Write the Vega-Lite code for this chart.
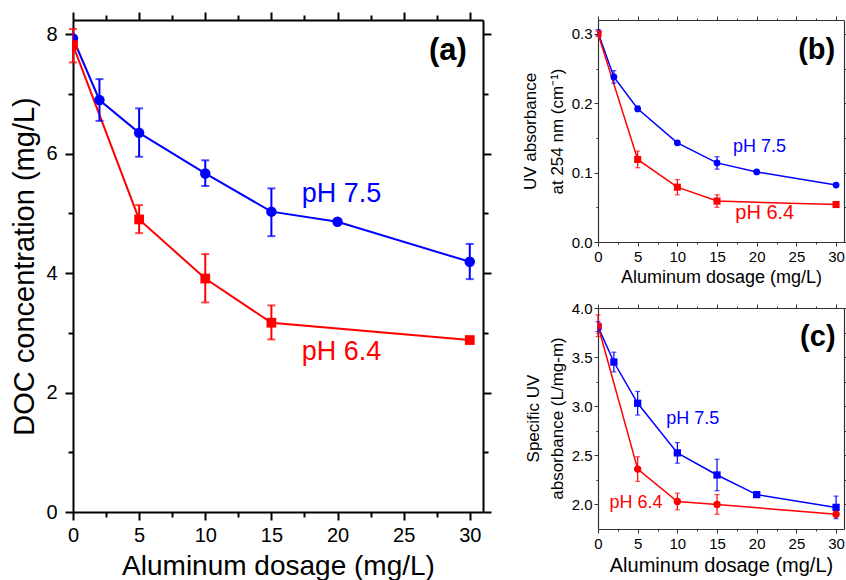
{
  "$schema": "https://vega.github.io/schema/vega-lite/v6.json",
  "padding": {"left": 10, "top": 11, "right": 0, "bottom": 0},
  "config": {
    "font": "Liberation Sans",
    "view": {"stroke": null},
    "axis": {"grid": false, "labelColor": "black", "titleColor": "black", "titleFontWeight": "normal", "labelFlush": false, "labelOverlap": false, "tickColor": "black", "domainColor": "black", "labelFont": "Liberation Sans", "titleFont": "Liberation Sans"}
  },
  "datasets": {
    "a": [
      {"d": 0, "ph": "pH 7.5", "v": 7.93, "lo": null, "hi": null},
      {"d": 2, "ph": "pH 7.5", "v": 6.90, "lo": 6.55, "hi": 7.25},
      {"d": 5, "ph": "pH 7.5", "v": 6.35, "lo": 5.95, "hi": 6.76},
      {"d": 10, "ph": "pH 7.5", "v": 5.67, "lo": 5.46, "hi": 5.89},
      {"d": 15, "ph": "pH 7.5", "v": 5.03, "lo": 4.62, "hi": 5.42},
      {"d": 20, "ph": "pH 7.5", "v": 4.86, "lo": null, "hi": null},
      {"d": 30, "ph": "pH 7.5", "v": 4.19, "lo": 3.90, "hi": 4.49},
      {"d": 0, "ph": "pH 6.4", "v": 7.82, "lo": 7.53, "hi": 8.09},
      {"d": 5, "ph": "pH 6.4", "v": 4.90, "lo": 4.67, "hi": 5.14},
      {"d": 10, "ph": "pH 6.4", "v": 3.91, "lo": 3.51, "hi": 4.32},
      {"d": 15, "ph": "pH 6.4", "v": 3.17, "lo": 2.89, "hi": 3.46},
      {"d": 30, "ph": "pH 6.4", "v": 2.88, "lo": null, "hi": null}
    ],
    "b": [
      {"d": 0, "ph": "pH 7.5", "v": 0.302, "lo": 0.298, "hi": 0.306},
      {"d": 2, "ph": "pH 7.5", "v": 0.238, "lo": 0.229, "hi": 0.247},
      {"d": 5, "ph": "pH 7.5", "v": 0.192, "lo": 0.188, "hi": 0.196},
      {"d": 10, "ph": "pH 7.5", "v": 0.143, "lo": 0.140, "hi": 0.146},
      {"d": 15, "ph": "pH 7.5", "v": 0.114, "lo": 0.105, "hi": 0.123},
      {"d": 20, "ph": "pH 7.5", "v": 0.101, "lo": null, "hi": null},
      {"d": 30, "ph": "pH 7.5", "v": 0.082, "lo": null, "hi": null},
      {"d": 0, "ph": "pH 6.4", "v": 0.300, "lo": 0.296, "hi": 0.304},
      {"d": 5, "ph": "pH 6.4", "v": 0.119, "lo": 0.107, "hi": 0.131},
      {"d": 10, "ph": "pH 6.4", "v": 0.079, "lo": 0.068, "hi": 0.090},
      {"d": 15, "ph": "pH 6.4", "v": 0.059, "lo": 0.050, "hi": 0.068},
      {"d": 30, "ph": "pH 6.4", "v": 0.054, "lo": null, "hi": null}
    ],
    "c": [
      {"d": 0, "ph": "pH 7.5", "v": 3.81, "lo": 3.76, "hi": 3.86},
      {"d": 2, "ph": "pH 7.5", "v": 3.45, "lo": 3.35, "hi": 3.55},
      {"d": 5, "ph": "pH 7.5", "v": 3.03, "lo": 2.91, "hi": 3.15},
      {"d": 10, "ph": "pH 7.5", "v": 2.525, "lo": 2.42, "hi": 2.63},
      {"d": 15, "ph": "pH 7.5", "v": 2.30, "lo": 2.14, "hi": 2.46},
      {"d": 20, "ph": "pH 7.5", "v": 2.10, "lo": null, "hi": null},
      {"d": 30, "ph": "pH 7.5", "v": 1.97, "lo": 1.855, "hi": 2.085},
      {"d": 0, "ph": "pH 6.4", "v": 3.82, "lo": 3.71, "hi": 3.93},
      {"d": 5, "ph": "pH 6.4", "v": 2.36, "lo": 2.235, "hi": 2.485},
      {"d": 10, "ph": "pH 6.4", "v": 2.03, "lo": 1.945, "hi": 2.115},
      {"d": 15, "ph": "pH 6.4", "v": 2.00, "lo": 1.90, "hi": 2.10},
      {"d": 30, "ph": "pH 6.4", "v": 1.90, "lo": 1.88, "hi": 1.92}
    ],
    "ta": [
      {"x": 17.3, "y": 5.20, "t": "pH 7.5", "ph": "pH 7.5"},
      {"x": 17.3, "y": 2.55, "t": "pH 6.4", "ph": "pH 6.4"}
    ],
    "tb": [
      {"x": 17.0, "y": 0.130, "t": "pH 7.5", "ph": "pH 7.5"},
      {"x": 17.3, "y": 0.033, "t": "pH 6.4", "ph": "pH 6.4"}
    ],
    "tc": [
      {"x": 8.6, "y": 2.822, "t": "pH 7.5", "ph": "pH 7.5"},
      {"x": 1.46, "y": 1.959, "t": "pH 6.4", "ph": "pH 6.4"}
    ],
    "la": [{"x": 28.35, "y": 7.57, "t": "(a)"}],
    "lb": [{"x": 27.56, "y": 0.264, "t": "(b)"}],
    "lc": [{"x": 27.7, "y": 3.617, "t": "(c)"}]
  },
  "spacing": 115,
  "bounds": "flush",
  "resolve": {"scale": {"shape": "independent", "size": "independent"}},
  "hconcat": [
    {
      "width": 410,
      "height": 492,
      "data": {"name": "a"},
      "resolve": {"axis": {"x": "independent", "y": "independent"}},
      "layer": [
        {
          "mark": {"type": "line", "strokeWidth": 2},
          "encoding": {
            "x": {"field": "d", "type": "quantitative", "scale": {"domain": [0, 31], "nice": false, "zero": false},
              "axis": {"orient": "bottom", "values": [0, 5, 10, 15, 20, 25, 30], "tickSize": 8, "tickWidth": 2, "domainWidth": 2, "labelFontSize": 20, "labelPadding": 5, "title": "Aluminum dosage (mg/L)", "titleFontSize": 28, "titleBaseline": "alphabetic", "titleY": 62}},
            "y": {"field": "v", "type": "quantitative", "scale": {"domain": [0, 8.24], "nice": false, "zero": false},
              "axis": {"orient": "left", "values": [0, 2, 4, 6, 8], "tickSize": 8, "tickWidth": 2, "domainWidth": 2, "labelFontSize": 20, "labelPadding": 8, "title": "DOC concentration (mg/L)", "titleFontSize": 29, "titleAngle": -90, "titleBaseline": "alphabetic", "titleAlign": "center", "titleX": -40, "titleY": 246}},
            "color": {"field": "ph", "type": "nominal", "scale": {"domain": ["pH 7.5", "pH 6.4"], "range": ["#0000ff", "#ff0000"]}, "legend": null}
          }
        },
        {
          "mark": {"type": "rule", "strokeWidth": 2},
          "encoding": {
            "x": {"field": "d", "type": "quantitative", "scale": {"domain": [0, 31], "nice": false, "zero": false},
              "axis": {"orient": "bottom", "values": [2.5, 7.5, 12.5, 17.5, 22.5, 27.5], "tickSize": 5, "tickWidth": 2, "domain": false, "labels": false, "title": null}},
            "y": {"field": "lo", "type": "quantitative", "scale": {"domain": [0, 8.24], "nice": false, "zero": false},
              "axis": {"orient": "left", "values": [1, 3, 5, 7], "tickSize": 5, "tickWidth": 2, "domain": false, "labels": false, "title": null}},
            "y2": {"field": "hi"},
            "color": {"field": "ph", "type": "nominal", "legend": null}
          }
        },
        {
          "mark": {"type": "tick", "orient": "horizontal", "size": 8, "thickness": 2},
          "encoding": {
            "x": {"field": "d", "type": "quantitative", "scale": {"domain": [0, 31], "nice": false, "zero": false},
              "axis": {"orient": "top", "values": [0, 5, 10, 15, 20, 25, 30], "tickSize": 8, "tickWidth": 2, "domainWidth": 2, "labels": false, "title": null}},
            "y": {"field": "lo", "type": "quantitative", "scale": {"domain": [0, 8.24], "nice": false, "zero": false},
              "axis": {"orient": "right", "values": [0, 2, 4, 6, 8], "tickSize": 8, "tickWidth": 2, "domainWidth": 2, "labels": false, "title": null}},
            "color": {"field": "ph", "type": "nominal", "legend": null}
          }
        },
        {
          "mark": {"type": "tick", "orient": "horizontal", "size": 8, "thickness": 2},
          "encoding": {
            "x": {"field": "d", "type": "quantitative", "scale": {"domain": [0, 31], "nice": false, "zero": false},
              "axis": {"orient": "top", "values": [2.5, 7.5, 12.5, 17.5, 22.5, 27.5], "tickSize": 5, "tickWidth": 2, "domain": false, "labels": false, "title": null}},
            "y": {"field": "hi", "type": "quantitative", "scale": {"domain": [0, 8.24], "nice": false, "zero": false},
              "axis": {"orient": "right", "values": [1, 3, 5, 7], "tickSize": 5, "tickWidth": 2, "domain": false, "labels": false, "title": null}},
            "color": {"field": "ph", "type": "nominal", "legend": null}
          }
        },
        {
          "mark": {"type": "point", "filled": true, "opacity": 1, "clip": true},
          "encoding": {
            "x": {"field": "d", "type": "quantitative", "axis": null},
            "y": {"field": "v", "type": "quantitative", "axis": null},
            "color": {"field": "ph", "type": "nominal", "legend": null},
            "shape": {"field": "ph", "type": "nominal", "scale": {"domain": ["pH 7.5", "pH 6.4"], "range": ["circle", "square"]}, "legend": null},
            "size": {"field": "ph", "type": "nominal", "scale": {"domain": ["pH 7.5", "pH 6.4"], "range": [110, 95]}, "legend": null}
          }
        },
        {
          "data": {"name": "ta"},
          "mark": {"type": "text", "fontSize": 27, "align": "left", "baseline": "alphabetic"},
          "encoding": {
            "x": {"field": "x", "type": "quantitative", "axis": null},
            "y": {"field": "y", "type": "quantitative", "axis": null},
            "text": {"field": "t"},
            "color": {"field": "ph", "type": "nominal", "legend": null}
          }
        },
        {
          "data": {"name": "la"},
          "mark": {"type": "text", "fontSize": 31, "fontWeight": "bold", "align": "center", "baseline": "alphabetic", "color": "black"},
          "encoding": {
            "x": {"field": "x", "type": "quantitative", "axis": null},
            "y": {"field": "y", "type": "quantitative", "axis": null},
            "text": {"field": "t"}
          }
        }
      ]
    },
    {
      "spacing": 66,
      "bounds": "flush",
      "resolve": {"scale": {"shape": "independent", "size": "independent"}},
      "vconcat": [
        {
          "width": 246,
          "height": 222,
          "data": {"name": "b"},
          "resolve": {"axis": {"x": "independent", "y": "independent"}},
          "layer": [
            {
              "mark": {"type": "line", "strokeWidth": 1.5},
              "encoding": {
                "x": {"field": "d", "type": "quantitative", "scale": {"domain": [0, 31], "nice": false, "zero": false},
                  "axis": {"orient": "bottom", "values": [0, 5, 10, 15, 20, 25, 30], "tickSize": 4, "tickWidth": 1, "tickColor": "#333", "domainColor": "#333", "domainWidth": 1.2, "labelFontSize": 15, "labelPadding": 3, "title": "Aluminum dosage (mg/L)", "titleFontSize": 18, "titleBaseline": "alphabetic", "titleY": 40}},
                "y": {"field": "v", "type": "quantitative", "scale": {"domain": [0, 0.32], "nice": false, "zero": false},
                  "axis": {"orient": "left", "values": [0, 0.1, 0.2, 0.3], "format": ".1f", "tickSize": 4, "tickWidth": 1, "tickColor": "#333", "domainColor": "#333", "domainWidth": 1.2, "labelFontSize": 15, "labelPadding": 2, "title": ["UV absorbance", "at 254 nm (cm⁻¹)"], "titleFontSize": 17, "titleLineHeight": 27, "titleAngle": -90, "titleBaseline": "alphabetic", "titleAlign": "center", "titleX": -63, "titleY": 111}},
                "color": {"field": "ph", "type": "nominal", "scale": {"domain": ["pH 7.5", "pH 6.4"], "range": ["#0000ff", "#ff0000"]}, "legend": null}
              }
            },
            {
              "mark": {"type": "rule", "strokeWidth": 1.2},
              "encoding": {
                "x": {"field": "d", "type": "quantitative", "scale": {"domain": [0, 31], "nice": false, "zero": false},
                  "axis": {"orient": "bottom", "values": [2.5, 7.5, 12.5, 17.5, 22.5, 27.5], "tickSize": 2, "tickWidth": 1, "tickColor": "#333", "domain": false, "labels": false, "title": null}},
                "y": {"field": "lo", "type": "quantitative", "scale": {"domain": [0, 0.32], "nice": false, "zero": false},
                  "axis": {"orient": "left", "values": [0.05, 0.15, 0.25], "tickSize": 2, "tickWidth": 1, "tickColor": "#333", "domain": false, "labels": false, "title": null}},
                "y2": {"field": "hi"},
                "color": {"field": "ph", "type": "nominal", "legend": null}
              }
            },
            {
              "mark": {"type": "tick", "orient": "horizontal", "size": 5, "thickness": 1.2},
              "encoding": {
                "x": {"field": "d", "type": "quantitative", "scale": {"domain": [0, 31], "nice": false, "zero": false},
                  "axis": {"orient": "top", "values": [0, 5, 10, 15, 20, 25, 30], "tickSize": 4, "tickWidth": 1, "tickColor": "#333", "domainColor": "#333", "domainWidth": 1.2, "labels": false, "title": null}},
                "y": {"field": "lo", "type": "quantitative", "scale": {"domain": [0, 0.32], "nice": false, "zero": false},
                  "axis": {"orient": "right", "values": [0, 0.1, 0.2, 0.3], "tickSize": 4, "tickWidth": 1, "tickColor": "#333", "domainColor": "#333", "domainWidth": 1.2, "labels": false, "title": null}},
                "color": {"field": "ph", "type": "nominal", "legend": null}
              }
            },
            {
              "mark": {"type": "tick", "orient": "horizontal", "size": 5, "thickness": 1.2},
              "encoding": {
                "x": {"field": "d", "type": "quantitative", "scale": {"domain": [0, 31], "nice": false, "zero": false},
                  "axis": {"orient": "top", "values": [2.5, 7.5, 12.5, 17.5, 22.5, 27.5], "tickSize": 2, "tickWidth": 1, "tickColor": "#333", "domain": false, "labels": false, "title": null}},
                "y": {"field": "hi", "type": "quantitative", "scale": {"domain": [0, 0.32], "nice": false, "zero": false},
                  "axis": {"orient": "right", "values": [0.05, 0.15, 0.25], "tickSize": 2, "tickWidth": 1, "tickColor": "#333", "domain": false, "labels": false, "title": null}},
                "color": {"field": "ph", "type": "nominal", "legend": null}
              }
            },
            {
              "mark": {"type": "point", "filled": true, "opacity": 1, "clip": true},
              "encoding": {
                "x": {"field": "d", "type": "quantitative", "axis": null},
                "y": {"field": "v", "type": "quantitative", "axis": null},
                "color": {"field": "ph", "type": "nominal", "legend": null},
                "shape": {"field": "ph", "type": "nominal", "scale": {"domain": ["pH 7.5", "pH 6.4"], "range": ["circle", "square"]}, "legend": null},
                "size": {"field": "ph", "type": "nominal", "scale": {"domain": ["pH 7.5", "pH 6.4"], "range": [46, 50]}, "legend": null}
              }
            },
            {
              "data": {"name": "tb"},
              "transform": [{"filter": "datum.ph === 'pH 7.5'"}],
              "mark": {"type": "text", "fontSize": 18, "align": "left", "baseline": "alphabetic"},
              "encoding": {
                "x": {"field": "x", "type": "quantitative", "axis": null},
                "y": {"field": "y", "type": "quantitative", "axis": null},
                "text": {"field": "t"},
                "color": {"field": "ph", "type": "nominal", "legend": null}
              }
            },
            {
              "data": {"name": "tb"},
              "transform": [{"filter": "datum.ph === 'pH 6.4'"}],
              "mark": {"type": "text", "fontSize": 20, "align": "left", "baseline": "alphabetic"},
              "encoding": {
                "x": {"field": "x", "type": "quantitative", "axis": null},
                "y": {"field": "y", "type": "quantitative", "axis": null},
                "text": {"field": "t"},
                "color": {"field": "ph", "type": "nominal", "legend": null}
              }
            },
            {
              "data": {"name": "lb"},
              "mark": {"type": "text", "fontSize": 29, "fontWeight": "bold", "align": "center", "baseline": "alphabetic", "color": "black"},
              "encoding": {
                "x": {"field": "x", "type": "quantitative", "axis": null},
                "y": {"field": "y", "type": "quantitative", "axis": null},
                "text": {"field": "t"}
              }
            }
          ]
        },
        {
          "width": 246,
          "height": 221,
          "data": {"name": "c"},
          "resolve": {"axis": {"x": "independent", "y": "independent"}},
          "layer": [
            {
              "mark": {"type": "line", "strokeWidth": 1.5},
              "encoding": {
                "x": {"field": "d", "type": "quantitative", "scale": {"domain": [0, 31], "nice": false, "zero": false},
                  "axis": {"orient": "bottom", "values": [0, 5, 10, 15, 20, 25, 30], "tickSize": 4, "tickWidth": 1, "tickColor": "#333", "domainColor": "#333", "domainWidth": 1.2, "labelFontSize": 15, "labelPadding": 3, "title": "Aluminum dosage (mg/L)", "titleFontSize": 20, "titleBaseline": "alphabetic", "titleY": 42}},
                "y": {"field": "v", "type": "quantitative", "scale": {"domain": [1.75, 4.0], "nice": false, "zero": false},
                  "axis": {"orient": "left", "values": [2.0, 2.5, 3.0, 3.5, 4.0], "format": ".1f", "tickSize": 4, "tickWidth": 1, "tickColor": "#333", "domainColor": "#333", "domainWidth": 1.2, "labelFontSize": 15, "labelPadding": 2, "title": ["Specific UV", "absorbance (L/mg-m)"], "titleFontSize": 17, "titleLineHeight": 24, "titleAngle": -90, "titleBaseline": "alphabetic", "titleAlign": "center", "titleX": -60, "titleY": 110}},
                "color": {"field": "ph", "type": "nominal", "scale": {"domain": ["pH 7.5", "pH 6.4"], "range": ["#0000ff", "#ff0000"]}, "legend": null}
              }
            },
            {
              "mark": {"type": "rule", "strokeWidth": 1.2},
              "encoding": {
                "x": {"field": "d", "type": "quantitative", "scale": {"domain": [0, 31], "nice": false, "zero": false},
                  "axis": {"orient": "bottom", "values": [2.5, 7.5, 12.5, 17.5, 22.5, 27.5], "tickSize": 2, "tickWidth": 1, "tickColor": "#333", "domain": false, "labels": false, "title": null}},
                "y": {"field": "lo", "type": "quantitative", "scale": {"domain": [1.75, 4.0], "nice": false, "zero": false},
                  "axis": {"orient": "left", "values": [2.25, 2.75, 3.25, 3.75], "tickSize": 2, "tickWidth": 1, "tickColor": "#333", "domain": false, "labels": false, "title": null}},
                "y2": {"field": "hi"},
                "color": {"field": "ph", "type": "nominal", "legend": null}
              }
            },
            {
              "mark": {"type": "tick", "orient": "horizontal", "size": 5, "thickness": 1.2},
              "encoding": {
                "x": {"field": "d", "type": "quantitative", "scale": {"domain": [0, 31], "nice": false, "zero": false},
                  "axis": {"orient": "top", "values": [0, 5, 10, 15, 20, 25, 30], "tickSize": 4, "tickWidth": 1, "tickColor": "#333", "domainColor": "#333", "domainWidth": 1.2, "labels": false, "title": null}},
                "y": {"field": "lo", "type": "quantitative", "scale": {"domain": [1.75, 4.0], "nice": false, "zero": false},
                  "axis": {"orient": "right", "values": [2.0, 2.5, 3.0, 3.5, 4.0], "tickSize": 4, "tickWidth": 1, "tickColor": "#333", "domainColor": "#333", "domainWidth": 1.2, "labels": false, "title": null}},
                "color": {"field": "ph", "type": "nominal", "legend": null}
              }
            },
            {
              "mark": {"type": "tick", "orient": "horizontal", "size": 5, "thickness": 1.2},
              "encoding": {
                "x": {"field": "d", "type": "quantitative", "scale": {"domain": [0, 31], "nice": false, "zero": false},
                  "axis": {"orient": "top", "values": [2.5, 7.5, 12.5, 17.5, 22.5, 27.5], "tickSize": 2, "tickWidth": 1, "tickColor": "#333", "domain": false, "labels": false, "title": null}},
                "y": {"field": "hi", "type": "quantitative", "scale": {"domain": [1.75, 4.0], "nice": false, "zero": false},
                  "axis": {"orient": "right", "values": [2.25, 2.75, 3.25, 3.75], "tickSize": 2, "tickWidth": 1, "tickColor": "#333", "domain": false, "labels": false, "title": null}},
                "color": {"field": "ph", "type": "nominal", "legend": null}
              }
            },
            {
              "mark": {"type": "point", "filled": true, "opacity": 1, "clip": true},
              "encoding": {
                "x": {"field": "d", "type": "quantitative", "axis": null},
                "y": {"field": "v", "type": "quantitative", "axis": null},
                "color": {"field": "ph", "type": "nominal", "legend": null},
                "shape": {"field": "ph", "type": "nominal", "scale": {"domain": ["pH 7.5", "pH 6.4"], "range": ["square", "circle"]}, "legend": null},
                "size": {"field": "ph", "type": "nominal", "scale": {"domain": ["pH 7.5", "pH 6.4"], "range": [53, 54]}, "legend": null}
              }
            },
            {
              "data": {"name": "tc"},
              "mark": {"type": "text", "fontSize": 18, "align": "left", "baseline": "alphabetic"},
              "encoding": {
                "x": {"field": "x", "type": "quantitative", "axis": null},
                "y": {"field": "y", "type": "quantitative", "axis": null},
                "text": {"field": "t"},
                "color": {"field": "ph", "type": "nominal", "legend": null}
              }
            },
            {
              "data": {"name": "lc"},
              "mark": {"type": "text", "fontSize": 29, "fontWeight": "bold", "align": "center", "baseline": "alphabetic", "color": "black"},
              "encoding": {
                "x": {"field": "x", "type": "quantitative", "axis": null},
                "y": {"field": "y", "type": "quantitative", "axis": null},
                "text": {"field": "t"}
              }
            }
          ]
        }
      ]
    }
  ]
}
